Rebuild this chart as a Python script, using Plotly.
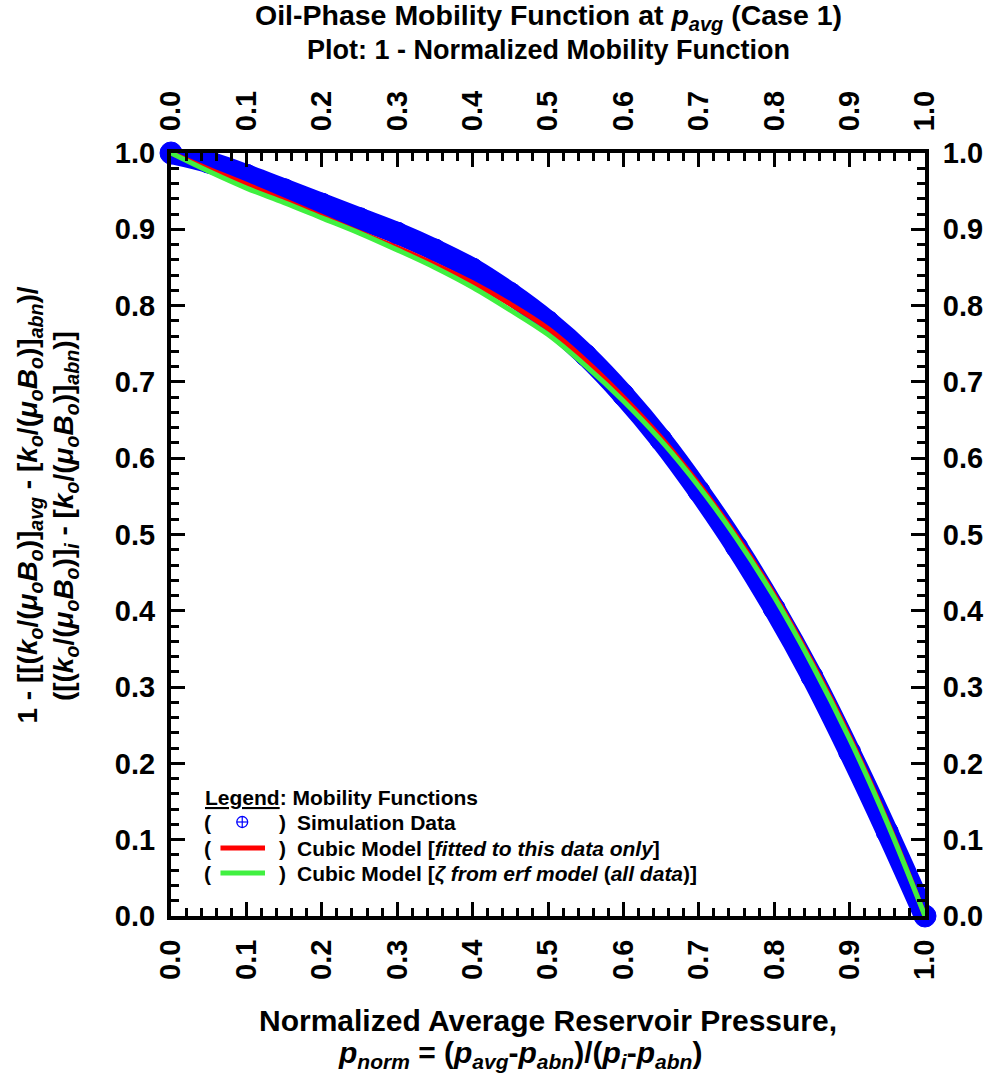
import plotly.graph_objects as go

# Normalized average reservoir pressure (x) and normalized mobility values (y)
p_norm = [0.00, 0.05, 0.10, 0.15, 0.20, 0.25, 0.30, 0.35, 0.40, 0.45, 0.50,
          0.55, 0.60, 0.65, 0.70, 0.75, 0.80, 0.85, 0.90, 0.95, 1.00]

sim_data = [1.000, 0.988, 0.971, 0.952, 0.933, 0.914, 0.895, 0.873, 0.848, 0.816, 0.779,
            0.735, 0.683, 0.624, 0.557, 0.484, 0.403, 0.314, 0.215, 0.110, 0.000]

cubic_fit = [1.000, 0.979, 0.959, 0.938, 0.917, 0.896, 0.876, 0.854, 0.830, 0.802, 0.770,
             0.728, 0.680, 0.627, 0.566, 0.498, 0.421, 0.333, 0.235, 0.124, 0.000]

cubic_erf = [1.000, 0.976, 0.954, 0.935, 0.915, 0.895, 0.873, 0.850, 0.824, 0.794, 0.762,
             0.721, 0.675, 0.623, 0.563, 0.495, 0.418, 0.330, 0.232, 0.122, 0.000]

tick_vals = [0.0, 0.1, 0.2, 0.3, 0.4, 0.5, 0.6, 0.7, 0.8, 0.9, 1.0]
tick_text = ["0.0", "0.1", "0.2", "0.3", "0.4", "0.5", "0.6", "0.7", "0.8", "0.9", "1.0"]

FONT = "Liberation Sans, Arial, sans-serif"
BLUE = "#0000ff"
RED = "#ff0000"
GREEN = "#40f040"

W, H = 995, 1080
L, R, T, B = 171, 62, 153, 164
PW, PH = W - L - R, H - T - B


def px(x):
    return (x - L) / PW


def py(y):
    return (H - B - y) / PH


fig = go.Figure()

fig.add_trace(go.Scatter(
    x=p_norm, y=sim_data, mode="lines+markers",
    line=dict(color=BLUE, width=22, shape="spline"),
    marker=dict(symbol="circle", size=22, color=BLUE,
                line=dict(color=BLUE, width=1)),
    cliponaxis=False, showlegend=False, hoverinfo="skip"))

fig.add_trace(go.Scatter(
    x=p_norm, y=cubic_fit, mode="lines",
    line=dict(color=RED, width=5, shape="spline"),
    showlegend=False, hoverinfo="skip"))

fig.add_trace(go.Scatter(
    x=p_norm, y=cubic_erf, mode="lines",
    line=dict(color=GREEN, width=5, shape="spline"),
    showlegend=False, hoverinfo="skip"))

# invisible copy on the secondary axes so the top/right axes are drawn
fig.add_trace(go.Scatter(
    x=p_norm, y=cubic_erf, mode="lines", xaxis="x2", yaxis="y2",
    opacity=0, showlegend=False, hoverinfo="skip"))

tickfont = dict(family=FONT, size=29, color="black", weight="bold")
common = dict(
    range=[0, 1], tickmode="array", tickvals=tick_vals, ticktext=tick_text,
    ticks="inside", ticklen=14, tickwidth=3, tickcolor="black",
    showline=True, linewidth=4, linecolor="black",
    showgrid=False, zeroline=False, tickfont=tickfont,
    minor=dict(tick0=0, dtick=0.02, ticks="inside", ticklen=8,
               tickwidth=3, tickcolor="black", showgrid=False),
    fixedrange=True,
)

fig.update_layout(
    width=W, height=H,
    margin=dict(l=L, r=R, t=T, b=B, pad=0),
    paper_bgcolor="white", plot_bgcolor="white",
    xaxis=dict(common, side="bottom", tickangle=-90, ticklabelstandoff=8),
    xaxis2=dict(common, side="top", overlaying="x", anchor="y",
                tickangle=-90, ticklabelstandoff=12),
    yaxis=dict(common, side="left", ticklabelstandoff=6),
    yaxis2=dict(common, side="right", overlaying="y", anchor="x",
                ticklabelstandoff=8),
    showlegend=False,
)

ann = []


def text(x, y, s, size, xanchor="center", yanchor="middle", angle=0, color="black"):
    ann.append(dict(x=px(x), y=py(y), xref="paper", yref="paper", text=s,
                    showarrow=False, xanchor=xanchor, yanchor=yanchor,
                    textangle=angle, font=dict(family=FONT, size=size, color=color)))


# chart title
text(553, 17, "<b>Oil-Phase Mobility Function at <i>p</i><sub><i>avg</i></sub> (Case 1)</b>", 28.5)
text(553, 50, "<b>Plot: 1 - Normalized Mobility Function</b>", 27)

# x-axis title
text(552, 1020, "<b>Normalized Average Reservoir Pressure,</b>", 30)
text(524, 1054, "<b><i>p</i><sub><i>norm</i></sub> = (<i>p</i><sub><i>avg</i></sub>-<i>p</i><sub><i>abn</i></sub>)/"
                "(<i>p</i><sub><i>i</i></sub>-<i>p</i><sub><i>abn</i></sub>)</b>", 30)

# y-axis title
mob = "<i>k</i><sub><i>o</i></sub>/(<i>μ</i><sub><i>o</i></sub><i>B</i><sub><i>o</i></sub>)"
text(29, 505, "<b>1 - [[(" + mob + "]<sub><i>avg</i></sub> - [" + mob + "]<sub><i>abn</i></sub>)/</b>",
     28, angle=-90)
text(64, 516, "<b>([(" + mob + "]<sub><i>i</i></sub> - [" + mob + "]<sub><i>abn</i></sub>)]</b>",
     28, angle=-90)

# legend block
text(203, 797, "<b><u>Legend</u>: Mobility Functions</b>", 21, xanchor="left")
rows = [(822, "Simulation Data"),
        (848, "Cubic Model [<i>fitted to this data only</i>]"),
        (873, "Cubic Model [<i>ζ from erf model</i> (<i>all data</i>)]")]
for yy, label in rows:
    text(202, yy, "<b>(</b>", 21, xanchor="left")
    text(278, yy, "<b>)</b>", 21, xanchor="left")
    text(296, yy, "<b>" + label + "</b>", 21, xanchor="left")

fig.update_layout(annotations=ann)

shapes = []
# simulation-data glyph: circle with a cross
cx, cy, r = 243, 822, 5.5
shapes.append(dict(type="circle", xref="paper", yref="paper",
                   x0=px(cx - r), x1=px(cx + r), y0=py(cy + r), y1=py(cy - r),
                   line=dict(color=BLUE, width=1.3)))
shapes.append(dict(type="line", xref="paper", yref="paper",
                   x0=px(cx - r), x1=px(cx + r), y0=py(cy), y1=py(cy),
                   line=dict(color=BLUE, width=1.2)))
shapes.append(dict(type="line", xref="paper", yref="paper",
                   x0=px(cx), x1=px(cx), y0=py(cy - r), y1=py(cy + r),
                   line=dict(color=BLUE, width=1.2)))
for yy, col in [(848, RED), (873, GREEN)]:
    shapes.append(dict(type="line", xref="paper", yref="paper",
                       x0=px(221), x1=px(266), y0=py(yy), y1=py(yy),
                       line=dict(color=col, width=5)))
fig.update_layout(shapes=shapes)

fig.write_html("out.html")
